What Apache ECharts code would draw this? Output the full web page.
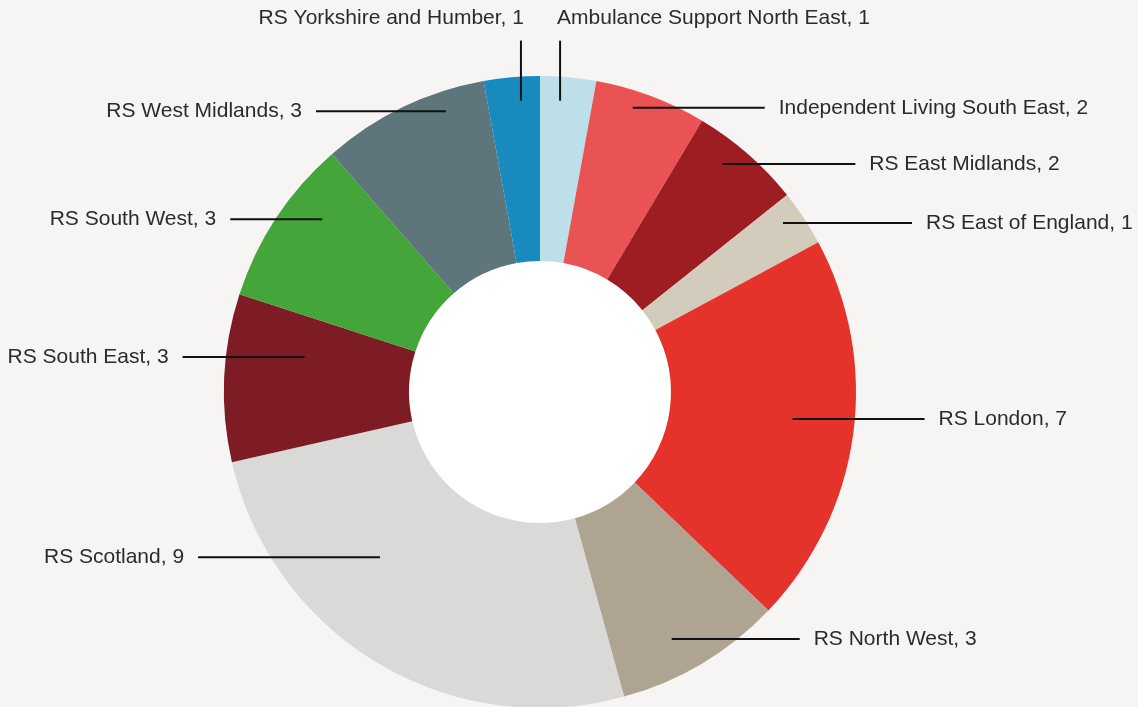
<!DOCTYPE html>
<html>
<head>
<meta charset="utf-8">
<script src="https://cdn.jsdelivr.net/npm/echarts@6/dist/echarts.min.js"></script>
<style>
  html, body { margin: 0; padding: 0; background: #f6f5f3; }
  #chart { width: 1138px; height: 707px; }
</style>
</head>
<body>
<div id="chart"></div>
<script>
///////////////////////////////////////////////////
// Used data
///////////////////////////////////////////////////
var categories = [
  'Ambulance Support North East',
  'Independent Living South East',
  'RS East Midlands',
  'RS East of England',
  'RS London',
  'RS North West',
  'RS Scotland',
  'RS South East',
  'RS South West',
  'RS West Midlands',
  'RS Yorkshire and Humber'
];
var values = [1, 2, 2, 1, 7, 3, 9, 3, 3, 3, 1];
var colors = [
  '#bcdfe9', '#ea5354', '#9d1d22', '#d3cbbb', '#e5322b', '#afa492',
  '#d9d9d7', '#7d1c24', '#43a53a', '#5e757b', '#188bbe'
];

// leader lines: [angle shift from slice middle (deg), anchor radius (px), line length (px)]
var leaders = [
  [-1.2, 292, 60],
  [-2.5, 299, 132],
  [-2.5, 292, 133],
  [-1.4, 296, 129],
  [-1.6, 254, 132],
  [2.8, 280, 128],
  [13.2, 230, 182],
  [5.9, 238, 122],
  [5.0, 278, 92],
  [7.2, 296, 130],
  [1.4, 292, 60]
];

///////////////////////////////////////////////////
// Chart
///////////////////////////////////////////////////
var cx = 540, cy = 392;
var total = values.reduce(function (a, b) { return a + b; }, 0);
var midAngles = [];
var acc = 0;
values.forEach(function (v) {
  midAngles.push((acc + v / 2) / total * 360);
  acc += v;
});

var div = document.getElementById('chart');
var myChart = echarts.init(div, null, { renderer: 'canvas' });

var pieBase = {
  type: 'pie',
  center: [cx, cy],
  radius: [131, 316],
  startAngle: 90,
  clockwise: true,
  avoidLabelOverlap: false,
  silent: true,
  emphasis: { disabled: true },
  itemStyle: { borderWidth: 0 }
};

option = {
  backgroundColor: '#f6f5f3',
  animation: false,
  series: [
    // coloured ring
    Object.assign({}, pieBase, {
      data: categories.map(function (name, i) {
        return { name: name, value: values[i], itemStyle: { color: colors[i] } };
      }),
      label: { show: false },
      labelLine: { show: false },
      z: 2
    }),
    // white hole
    {
      type: 'pie',
      center: [cx, cy],
      radius: [0, 131],
      silent: true,
      emphasis: { disabled: true },
      label: { show: false },
      labelLine: { show: false },
      data: [{ value: 1, name: 'hole', itemStyle: { color: '#ffffff' } }],
      z: 1
    },
    // transparent copy carrying labels and leader lines on top
    Object.assign({}, pieBase, {
      data: categories.map(function (name, i) {
        return { name: name, value: values[i], itemStyle: { color: 'rgba(0,0,0,0)' } };
      }),
      label: {
        show: true,
        position: 'outside',
        formatter: '{b}, {c}',
        fontFamily: 'Liberation Sans, Arial, sans-serif',
        fontSize: 21,
        color: '#2b2b2b'
      },
      labelLine: {
        show: true,
        lineStyle: { color: '#111111', width: 2 }
      },
      labelLayout: function (params) {
        var i = params.dataIndex;
        var ld = leaders[i];
        var ang = (midAngles[i] + ld[0]) * Math.PI / 180;
        var ax = cx + ld[1] * Math.sin(ang);
        var ay = cy - ld[1] * Math.cos(ang);
        var deg = midAngles[i];
        if (deg < 8 || deg > 352) {
          var top = ay - ld[2];
          var right = deg > 180;
          return {
            x: right ? ax + 3 : ax - 3,
            y: top - 22,
            align: right ? 'right' : 'left',
            verticalAlign: 'middle',
            labelLinePoints: [[ax, ay], [ax, (ay + top) / 2], [ax, top]]
          };
        }
        var isRight = deg < 180;
        var ex = isRight ? ax + ld[2] : ax - ld[2];
        return {
          x: isRight ? ex + 14 : ex - 14,
          y: ay,
          align: isRight ? 'left' : 'right',
          verticalAlign: 'middle',
          labelLinePoints: [[ax, ay], [(ax + ex) / 2, ay], [ex, ay]]
        };
      },
      z: 3
    })
  ]
};

myChart.setOption(option);
</script>
</body>
</html>
